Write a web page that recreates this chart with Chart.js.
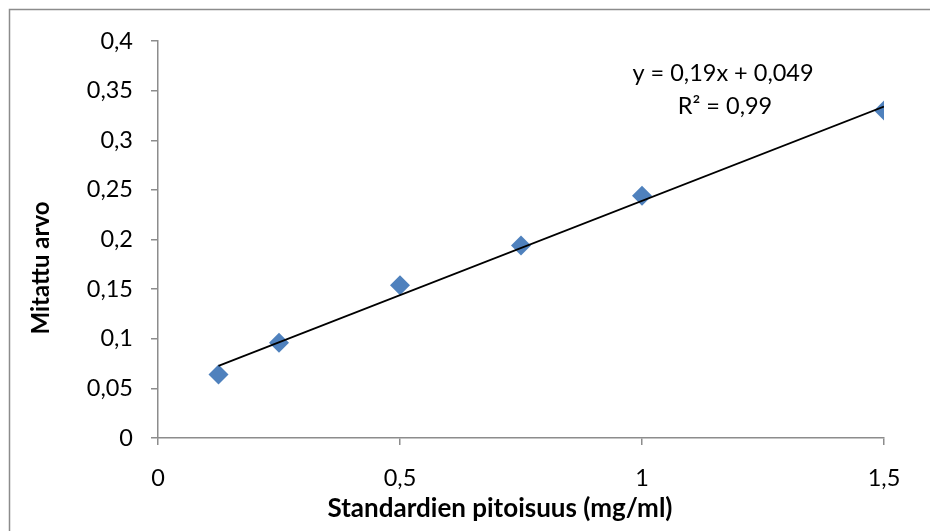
<!DOCTYPE html>
<html>
<head>
<meta charset="utf-8">
<script src="https://cdn.jsdelivr.net/npm/chart.js@4"></script>
<style>
    html, body { margin: 0; padding: 0; background: #fff; }
    #wrap { width: 930px; height: 531px; position: relative; }
</style>
</head>
<body>
<div id="wrap"><canvas id="myChart" width="930" height="531"></canvas></div>
<script>
    // measured standards
    var pitoisuus = [0.125, 0.25, 0.5, 0.75, 1.0, 1.5];
    var mitattu = [0.064, 0.096, 0.154, 0.194, 0.244, 0.330];
    var yTicks = [0, 0.05, 0.1, 0.15, 0.2, 0.25, 0.3, 0.35, 0.4];
    var xTicks = [0, 0.5, 1, 1.5];
    var trendSlope = 0.19;
    var trendIntercept = 0.049;
    var eqLines = ['y = 0,19x + 0,049', 'R\u00b2 = 0,99'];

    var FONT = 'Lato, "Open Sans", sans-serif';

    function fmt(v) {
        return String(Math.round(v * 100) / 100).replace('.', ',');
    }

    // trendline over the measured range
    var xMin = Math.min.apply(null, pitoisuus);
    var xMax = Math.max.apply(null, pitoisuus);
    var trend = [
        {x: xMin, y: trendSlope * xMin + trendIntercept},
        {x: xMax, y: trendSlope * xMax + trendIntercept}
    ];

    var extras = {
        id: 'extras',
        beforeDraw: function(chart) {
            var c = chart.ctx;
            c.save();
            c.strokeStyle = '#8c8c8c';
            c.lineWidth = 1.5;
            c.beginPath();
            c.moveTo(9.5, 531);
            c.lineTo(9.5, 9.5);
            c.lineTo(930, 9.5);
            c.stroke();
            c.restore();
        },
        afterDraw: function(chart) {
            var c = chart.ctx;
            c.save();
            c.fillStyle = '#000';
            c.textAlign = 'center';
            c.textBaseline = 'middle';
            c.font = 'bold 26px ' + FONT;
            c.fillText('Standardien pitoisuus (mg/ml)', 500, 509);
            c.font = 'bold 24px ' + FONT;
            c.translate(41, 268);
            c.rotate(-Math.PI / 2);
            c.fillText('Mitattu arvo', 0, 0);
            c.restore();

            c.save();
            c.fillStyle = '#000';
            c.textAlign = 'center';
            c.textBaseline = 'middle';
            c.font = '23.5px ' + FONT;
            c.fillText(eqLines[0], 723, 73);
            c.fillText(eqLines[1], 725, 106);
            c.restore();
        }
    };

    function loadChart() {
        var ctx = document.getElementById('myChart').getContext('2d');

        var data = {
            datasets: [
                {
                    label: 'Mitattu arvo',
                    data: pitoisuus.map(function(x, i) { return {x: x, y: mitattu[i]}; }),
                    pointStyle: 'rectRot',
                    pointRadius: 10,
                    backgroundColor: '#4f81bd',
                    borderColor: '#4f81bd',
                    borderWidth: 0,
                    showLine: false,
                    order: 2
                },
                {
                    label: 'Trend',
                    data: trend,
                    showLine: true,
                    borderColor: '#000',
                    borderWidth: 1.8,
                    pointRadius: 0,
                    fill: false,
                    order: 1
                }
            ]
        };

        var options = {
            responsive: false,
            animation: false,
            layout: {
                padding: {left: 0, top: 41, right: 46, bottom: 0}
            },
            scales: {
                x: {
                    type: 'linear',
                    min: 0,
                    max: 1.5,
                    afterFit: function(scale) { scale.height = 93; },
                    afterBuildTicks: function(scale) {
                        scale.ticks = xTicks.map(function(v) { return {value: v}; });
                    },
                    grid: {
                        drawOnChartArea: false,
                        drawTicks: true,
                        tickLength: 7,
                        color: '#8c8c8c',
                        lineWidth: 1.5
                    },
                    border: {color: '#8c8c8c', width: 1.5},
                    ticks: {
                        color: '#000',
                        padding: 19,
                        maxRotation: 0,
                        font: {family: FONT, size: 23.5},
                        callback: function(v) { return fmt(v); }
                    }
                },
                y: {
                    type: 'linear',
                    min: 0,
                    max: 0.4,
                    afterFit: function(scale) { scale.width = 158; },
                    afterBuildTicks: function(scale) {
                        scale.ticks = yTicks.map(function(v) { return {value: v}; });
                    },
                    grid: {
                        drawOnChartArea: false,
                        drawTicks: true,
                        tickLength: 7,
                        color: '#8c8c8c',
                        lineWidth: 1.5
                    },
                    border: {color: '#8c8c8c', width: 1.5},
                    ticks: {
                        color: '#000',
                        padding: 18,
                        font: {family: FONT, size: 23.5},
                        callback: function(v) { return fmt(v); }
                    }
                }
            },
            plugins: {
                legend: {display: false},
                tooltip: {enabled: false}
            }
        };

        new Chart(ctx, {
            type: 'scatter',
            data: data,
            options: options,
            plugins: [extras]
        });
    }

    loadChart();
</script>
</body>
</html>
